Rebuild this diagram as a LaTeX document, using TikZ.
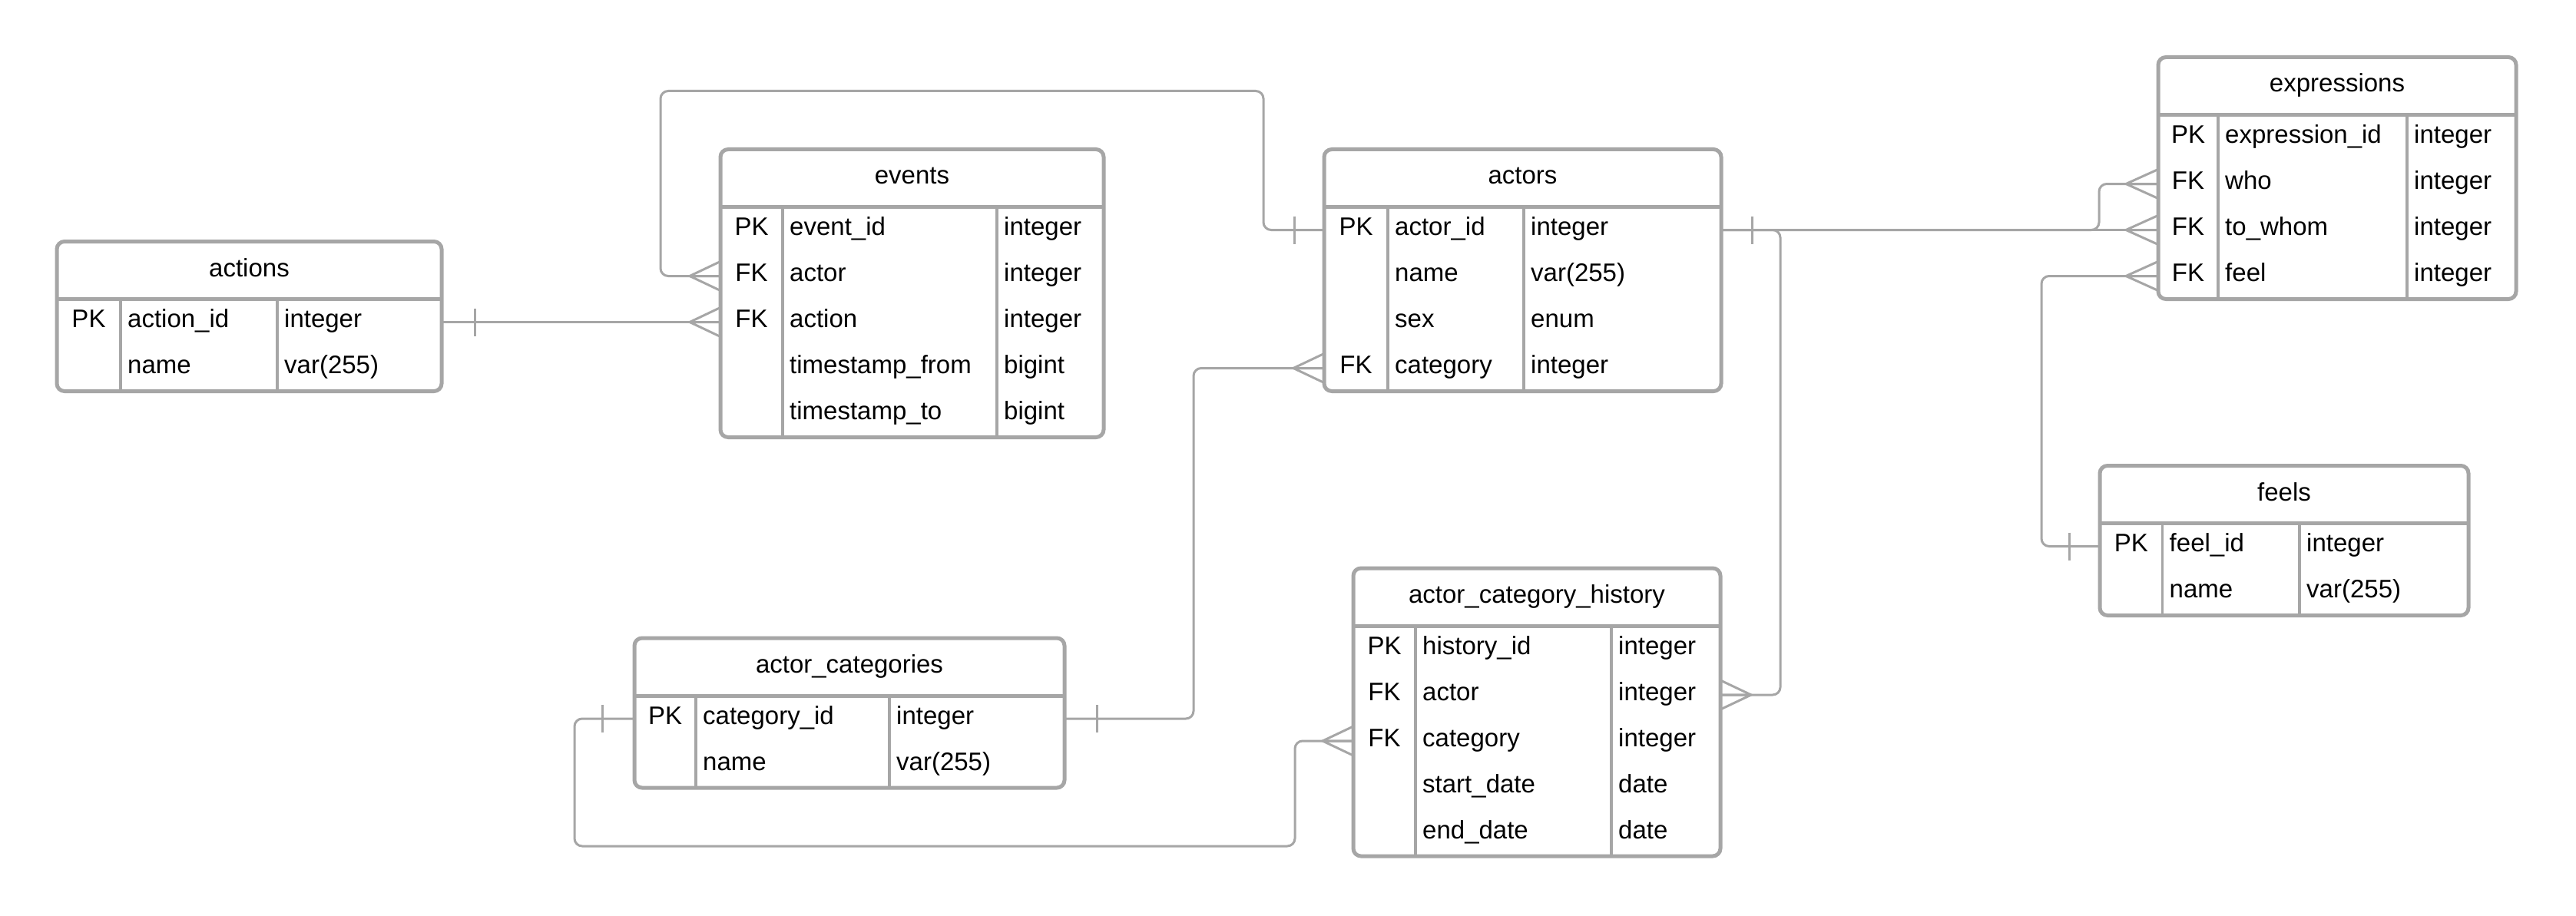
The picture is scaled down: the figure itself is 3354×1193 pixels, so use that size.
\documentclass[tikz,border=0pt]{standalone}
\usepackage{fontspec}
\setmainfont{Liberation Sans}
\usetikzlibrary{calc}
\definecolor{lg}{RGB}{166,166,166}
\newcommand\nok{}
\tikzset{
 tabbox/.style={draw=lg, line width=5pt, rounded corners=10pt, fill=white, inner sep=0pt, outer sep=0pt},
 hdr/.style={draw=lg, line width=5pt},
 coll/.style={draw=lg, line width=3.5pt},
 conn/.style={draw=lg, line width=3pt, rounded corners=10pt},
 txt/.style={inner sep=0pt, font=\fontsize{33}{39}\selectfont, text=black},
}
% #1 name, #2 x left, #3 y top, #4 x right, #5 col1 x, #6 col2 x, #7 nrows, #8 title, #9 rows
\newcommand\erdtab[9]{%
 \pgfmathsetmacro\tbh{75+60*#7}
 \node[tabbox, anchor=north west, minimum width={(#4-#2)*1pt}, minimum height={\tbh*1pt}] (#1) at (#2,#3) {};
 \draw[hdr] (#2,{#3+75}) -- (#4,{#3+75});
 \draw[coll] (#5,{#3+75}) -- (#5,{#3+\tbh});
 \draw[coll] (#6,{#3+75}) -- (#6,{#3+\tbh});
 \node[txt, anchor=base] (#1-title) at ({(#2+#4)/2},{#3+37.5+8}) {#8};
 \foreach \k/\a/\b [count=\i] in {#9} {
   \pgfmathsetmacro\yc{#3+75+60*\i-30}
   \node[txt, anchor=base] (#1-\i-k) at ({(#2+#5)/2},{\yc+7}) {\k};
   \node[txt, anchor=base west] (#1-\i-n) at ({#5+9},{\yc+7}) {\a};
   \node[txt, anchor=base west] (#1-\i-t) at ({#6+9},{\yc+7}) {\b};
   \coordinate (#1-\i-w) at (#2,\yc);
   \coordinate (#1-\i-e) at (#4,\yc);
 }
}
\newcommand\onebar[2]{\draw[conn] ($(#1)+(#2,-18)$) -- ($(#1)+(#2,18)$);}
\newcommand\crow[2]{\draw[conn, sharp corners] ($(#1)+(0,-19)$) -- ($(#1)+(#2,0)$) -- ($(#1)+(0,19)$) ($(#1)+(#2,0)$) -- (#1);}
\begin{document}
\begin{tikzpicture}[x=1pt, y=-1pt]
\useasboundingbox[fill=white] (0,0) rectangle (3354,1193);

\erdtab{actions}{74}{314.5}{575}{157}{361}{2}{actions}{PK/action\_id/integer, \nok/name/var(255)}
\erdtab{events}{938}{194.5}{1437}{1019}{1298}{5}{events}{PK/event\_id/integer, FK/actor/integer, FK/action/integer, \nok/timestamp\_from/bigint, \nok/timestamp\_to/bigint}
\erdtab{actors}{1724}{194.5}{2241}{1807}{1984}{4}{actors}{PK/actor\_id/integer, \nok/name/var(255), \nok/sex/enum, FK/category/integer}
\erdtab{expressions}{2810}{74.5}{3276}{2888}{3134}{4}{expressions}{PK/expression\_id/integer, FK/who/integer, FK/to\_whom/integer, FK/feel/integer}
\erdtab{feels}{2734}{606.5}{3214}{2815.5}{2994}{2}{feels}{PK/feel\_id/integer, \nok/name/var(255)}
\erdtab{actorcat}{826}{831}{1386}{906}{1158}{2}{actor\_categories}{PK/category\_id/integer, \nok/name/var(255)}
\erdtab{ach}{1762}{740}{2240}{1843}{2098}{5}{actor\_category\_history}{PK/history\_id/integer, FK/actor/integer, FK/category/integer, \nok/start\_date/date, \nok/end\_date/date}

% actions -> events.action
\draw[conn] (actions-1-e) -- (events-3-w);
\onebar{actions-1-e}{43} \crow{events-3-w}{-40}
% actors -> events.actor
\draw[conn] (actors-1-w) -- ++(-79,0) -- ++(0,-181) -| ($(events-2-w)+(-78,0)$) -- (events-2-w);
\onebar{actors-1-w}{-39} \crow{events-2-w}{-40}
% actors -> expressions.who / to_whom, ach.actor
\draw[conn] (actors-1-e) -- (expressions-3-w);
\draw[conn] (actors-1-e) -- ++(492,0) |- (expressions-2-w);
\draw[conn] (actors-1-e) -- ++(77,0) |- (ach-2-e);
\onebar{actors-1-e}{40}
\crow{expressions-2-w}{-42} \crow{expressions-3-w}{-42} \crow{ach-2-e}{40}
% actor_categories -> actors.category
\draw[conn] (actorcat-1-e) -- ++(168,0) |- (actors-4-w);
\onebar{actorcat-1-e}{42} \crow{actors-4-w}{-40}
% actor_categories -> ach.category
\draw[conn] (actorcat-1-w) -- ++(-78,0) -- ++(0,166) -| ($(ach-3-w)+(-76,0)$) -- (ach-3-w);
\onebar{actorcat-1-w}{-42} \crow{ach-3-w}{-40}
% feels -> expressions.feel
\draw[conn] (feels-1-w) -- ++(-76,0) |- (expressions-4-w);
\onebar{feels-1-w}{-40} \crow{expressions-4-w}{-42}
\end{tikzpicture}
\end{document}
